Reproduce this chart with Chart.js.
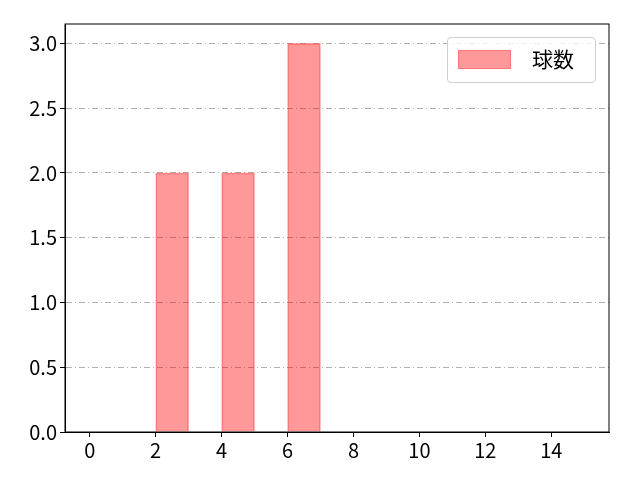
<!DOCTYPE html>
<html>
<head>
<meta charset="utf-8">
<script src="https://cdn.jsdelivr.net/npm/chart.js@4"></script>
<style>
body { margin: 0; background: #fff; }
#wrap { position: relative; width: 640px; height: 480px; }
#legend {
	position: absolute; left: 447px; top: 37px; width: 149px; height: 46px;
	border: 1px solid #d0d0d0; border-radius: 4px; background: rgba(255,255,255,0.8);
	font-family: "Noto Sans CJK JP", sans-serif; font-size: 21px; color: #000;
	box-sizing: border-box;
}
#legend .sw {
	position: absolute; left: 10px; top: 12px; width: 53px; height: 19px;
	background: rgba(255,153,153,1); border: 1px solid rgba(255,110,110,0.8); box-sizing: border-box;
}
#legend .lb { position: absolute; left: 84px; top: 6px; line-height: 28px; }
</style>
</head>
<body>
<div id="wrap">
<canvas id="myChart" width="640" height="480"></canvas>
<div id="legend"><div class="sw"></div><div class="lb">球数</div></div>
</div>
<script>
var binCenters = [0.5, 1.5, 2.5, 3.5, 4.5, 5.5, 6.5, 7.5, 8.5, 9.5, 10.5, 11.5, 12.5, 13.5, 14.5];
var counts = [0, 0, 2, 0, 2, 0, 3, 0, 0, 0, 0, 0, 0, 0, 0];
var seriesLabel = "球数";
var yTicks = [0, 0.5, 1, 1.5, 2, 2.5, 3];
var xTicks = [0, 2, 4, 6, 8, 10, 12, 14];

var ctx = document.getElementById("myChart").getContext("2d");
var font = { family: "'Noto Sans CJK JP', sans-serif", size: 20 };

var frame = {
	id: "frame",
	afterDraw: function (chart) {
		var a = chart.chartArea, c = chart.ctx;
		c.save();
		c.setLineDash([]);
		c.strokeStyle = "#000";
		c.lineWidth = 1;
		c.strokeRect(a.left, a.top, a.right - a.left, a.bottom - a.top);
		c.restore();
	},
};

var graphData = {
	type: "bar",
	data: {
		datasets: [
			{
				label: seriesLabel,
				data: binCenters.map(function (x, i) { return { x: x, y: counts[i] }; }),
				backgroundColor: "rgba(255,0,0,0.4)",
				borderColor: "rgba(255,60,60,0.45)",
				borderWidth: 1,
				barPercentage: 1,
				categoryPercentage: 1,
			},
		],
	},
	options: {
		responsive: false,
		animation: false,
		layout: { padding: { top: 24, right: 31, left: 0, bottom: 0 } },
		plugins: { legend: { display: false }, tooltip: { enabled: false } },
		scales: {
			x: {
				type: "linear",
				offset: false,
				min: -0.75,
				max: 15.75,
				afterBuildTicks: function (s) { s.ticks = xTicks.map(function (v) { return { value: v }; }); },
				afterFit: function (s) { s.height = 48; },
				ticks: { font: font, color: "#000", padding: 1, maxRotation: 0, autoSkip: false },
				grid: { offset: false, drawOnChartArea: false, drawTicks: true, tickLength: 5, tickColor: "#000" },
				border: { display: true, color: "#000" },
			},
			y: {
				min: 0,
				max: 3.15,
				afterBuildTicks: function (s) { s.ticks = yTicks.map(function (v) { return { value: v }; }); },
				afterFit: function (s) { s.width = 65; },
				ticks: { font: font, color: "#000", padding: 3, callback: function (v) { return v.toFixed(1); } },
				grid: {
					color: "#b0b0b0",
					lineWidth: 1,
					tickLength: 5,
					tickColor: "#000",
					tickBorderDash: [],
				},
				border: { display: true, color: "#000", dash: [6, 3, 1, 3] },
			},
		},
	},
	plugins: [frame],
};

var myChart = new Chart(ctx, graphData);
</script>
</body>
</html>
